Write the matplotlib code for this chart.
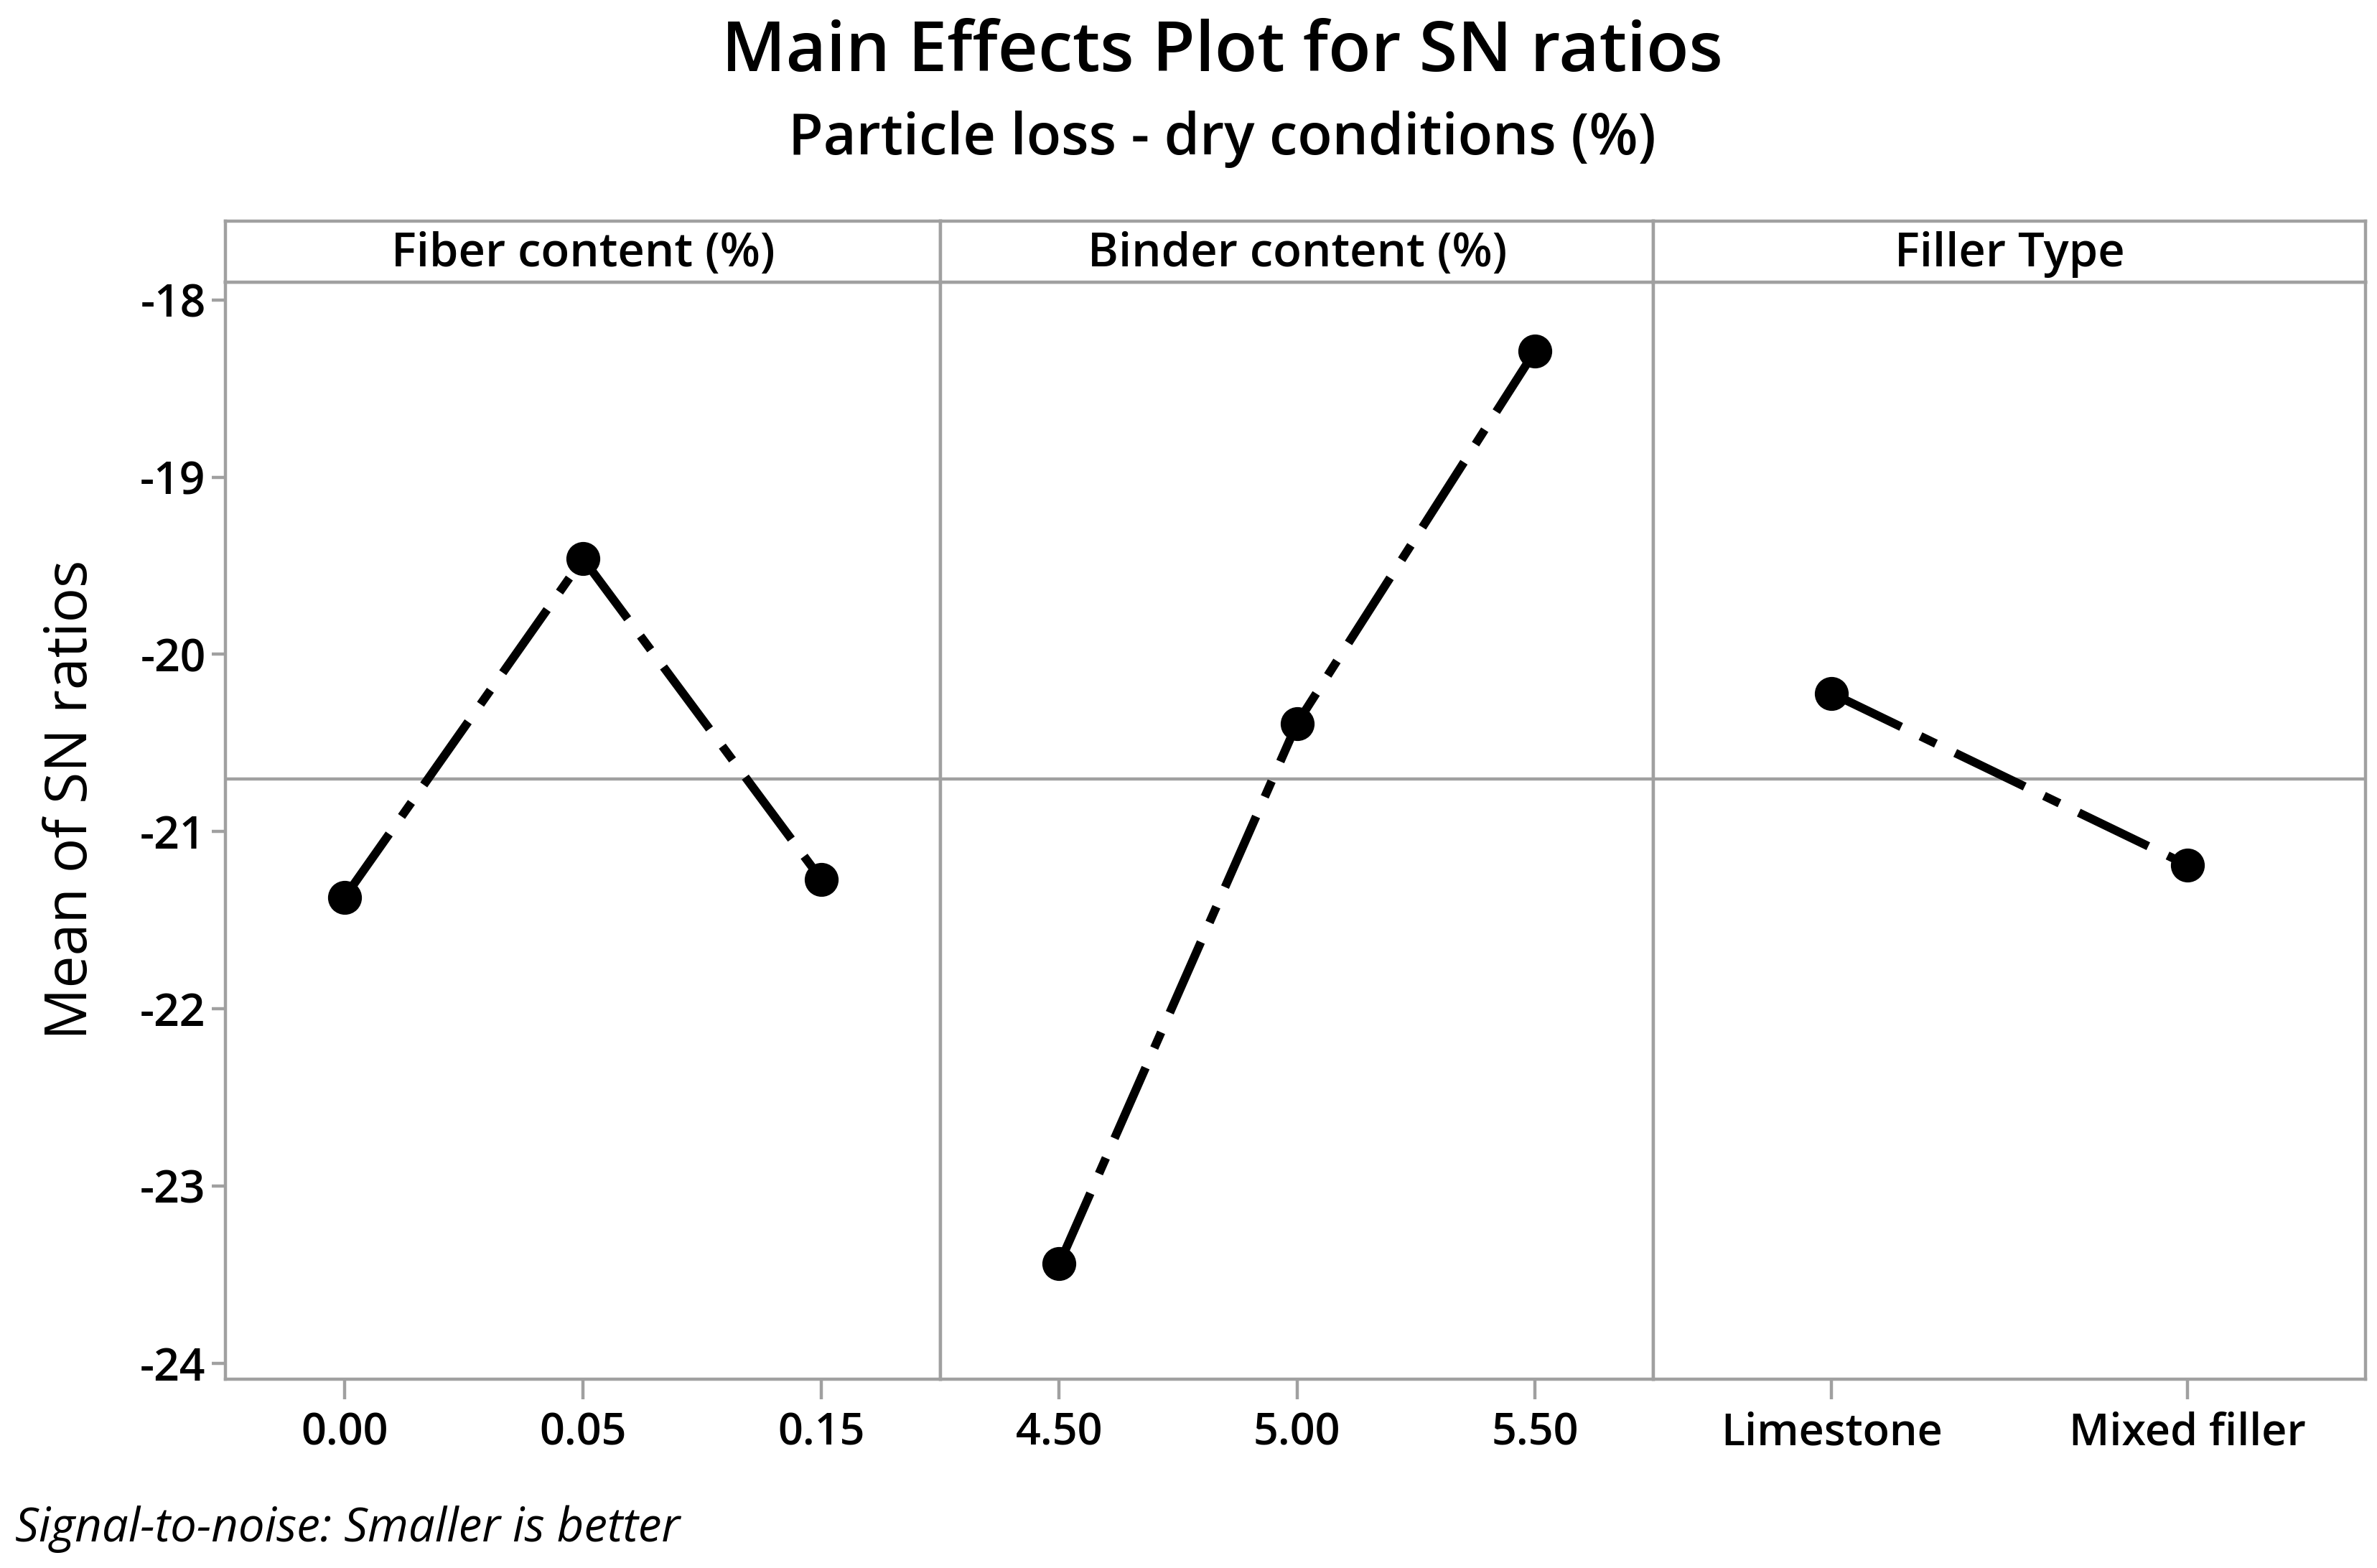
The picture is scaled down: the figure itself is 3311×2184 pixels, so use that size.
import matplotlib.pyplot as plt
import numpy as np

plt.rcParams['font.family'] = ['Open Sans', 'Lato', 'DejaVu Sans']
plt.rcParams['axes.unicode_minus'] = False

# Data
fiber_levels = ["0.00", "0.05", "0.15"]
fiber_sn = [-21.37, -19.46, -21.27]
binder_levels = ["4.50", "5.00", "5.50"]
binder_sn = [-23.44, -20.39, -18.29]
filler_levels = ["Limestone", "Mixed filler"]
filler_sn = [-20.22, -21.19]
factor_names = ["Fiber content (%)", "Binder content (%)", "Filler Type"]

panels = [(fiber_levels, fiber_sn), (binder_levels, binder_sn), (filler_levels, filler_sn)]
grand_mean = np.mean(fiber_sn + binder_sn + filler_sn)

GRAY = "#a0a0a0"
fig = plt.figure(figsize=(16.56, 10.92), dpi=200)

left, right = 0.0949, 0.9949
bottom, top = 0.1205, 0.820
strip_h = 0.039
edges = [left, 0.3955, 0.6955, right]

for i, ((levels, vals), name) in enumerate(zip(panels, factor_names)):
    x0, x1 = edges[i], edges[i + 1]
    ax = fig.add_axes([x0, bottom, x1 - x0, top - bottom])
    xs = np.arange(len(levels))
    ax.axhline(grand_mean, color=GRAY, lw=1.6, zorder=1)
    ax.plot(xs, vals, color="black", lw=4.3, linestyle=(0, (9, 2.5, 2, 2.5)),
            marker="o", markersize=16, zorder=3)
    ax.set_xlim(-0.5, len(levels) - 0.5)
    ax.set_ylim(-24.09, -17.9)
    ax.set_xticks(xs)
    ax.set_xticklabels(levels, fontsize=22, fontweight="semibold")
    ax.tick_params(axis="x", length=10, width=1.6, color=GRAY, pad=6)
    if i == 0:
        ax.set_yticks([-18, -19, -20, -21, -22, -23, -24])
        ax.set_yticklabels(["-18", "-19", "-20", "-21", "-22", "-23", "-24"],
                           fontsize=22.5, fontweight="semibold")
        ax.tick_params(axis="y", length=7, width=1.6, color=GRAY, pad=3)
    else:
        ax.set_yticks([])
    for sp in ax.spines.values():
        sp.set_color(GRAY)
        sp.set_linewidth(1.6)

    # strip header
    sax = fig.add_axes([x0, top, x1 - x0, strip_h])
    sax.set_xticks([])
    sax.set_yticks([])
    for sp in sax.spines.values():
        sp.set_color(GRAY)
        sp.set_linewidth(1.6)
    sax.text(0.5, 0.45, name, ha="center", va="center", fontsize=23.5,
             fontweight="semibold", transform=sax.transAxes)

fig.text(0.514, 0.966, "Main Effects Plot for SN ratios", ha="center", va="center",
         fontsize=35, fontweight="semibold")
fig.text(0.514, 0.911, "Particle loss - dry conditions (%)", ha="center", va="center",
         fontsize=28.5, fontweight="semibold")
fig.text(0.030, 0.49, "Mean of SN ratios", ha="center", va="center", rotation=90,
         fontsize=29, fontweight="medium")
fig.text(0.0064, 0.025, "Signal-to-noise: Smaller is better", ha="left", va="center",
         fontsize=23.5, style="italic")

fig.savefig("out.png", dpi=200, facecolor="white")
